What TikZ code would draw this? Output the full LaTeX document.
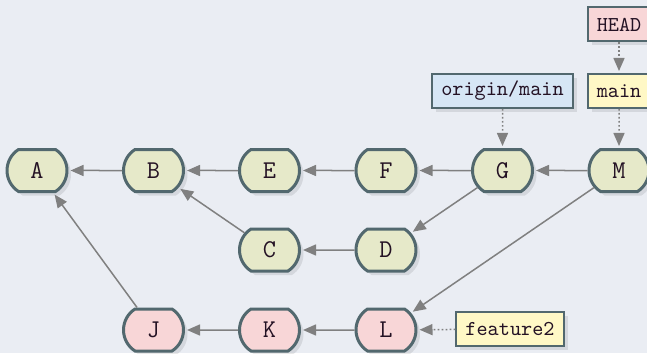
\documentclass[tikz,border=0pt]{standalone}
\usetikzlibrary{shapes.misc,shadows,arrows.meta}

\definecolor{bg}{RGB}{234,237,243}
\definecolor{slate}{RGB}{82,104,110}
\definecolor{cgreen}{RGB}{230,233,201}
\definecolor{cpink}{RGB}{248,214,215}
\definecolor{byellow}{RGB}{255,248,198}
\definecolor{bblue}{RGB}{214,230,245}
\definecolor{arrowgray}{RGB}{128,128,128}
\definecolor{ink}{RGB}{36,18,36}

\tikzset{
  commit/.style={rounded rectangle, rounded rectangle arc length=115,
    draw=slate, line width=1.5pt, fill=cgreen,
    minimum width=30pt, minimum height=21pt, inner sep=0pt,
    font=\ttfamily\fontsize{12.8}{14}\selectfont, text=ink,
    drop shadow={shadow xshift=2pt, shadow yshift=-2pt, fill=black, opacity=0.09}},
  feat/.style={commit, fill=cpink},
  refbox/.style={rectangle, draw=slate, line width=1pt,
    minimum height=17pt, inner xsep=4.6pt, inner ysep=0pt,
    font=\ttfamily\fontsize{10.6}{12}\selectfont, text=ink,
    drop shadow={shadow xshift=2pt, shadow yshift=-2pt, fill=black, opacity=0.09}},
  parent/.style={draw=arrowgray, line width=0.75pt,
    -{Triangle[length=6.5pt,width=5.5pt]}, shorten >=1pt},
  pointer/.style={parent, dash pattern=on 0.8pt off 1.2pt}
}

\begin{document}
\begin{tikzpicture}[x=0.5pt,y=-0.5pt]
  \clip (0,0) rectangle (647,353);
  \fill[bg] (0,0) rectangle (647,353);

  % main line of history
  \node[commit] (A) at (37,170.5) {A};
  \node[commit] (B) at (153.5,170.5) {B};
  \node[commit] (E) at (269.5,170.5) {E};
  \node[commit] (F) at (386,170.5) {F};
  \node[commit] (G) at (502.5,170.5) {G};
  \node[commit] (M) at (619,170.5) {M};

  % side branch merged into G
  \node[commit] (C) at (269.5,250) {C};
  \node[commit] (D) at (386,250) {D};

  % feature2 branch
  \node[feat] (J) at (153.5,330) {J};
  \node[feat] (K) at (269.5,330) {K};
  \node[feat] (L) at (386,330) {L};

  % references
  \node[refbox, fill=cpink] (head) at (619,24.5) {HEAD};
  \node[refbox, fill=byellow] (main) at (619,91) {main};
  \node[refbox, fill=bblue] (origin) at (502.5,91) {origin/main};
  \node[refbox, fill=byellow] (feature) at (510,329) {feature2};

  % parent links
  \draw[parent] (B) -- (A);
  \draw[parent] (E) -- (B);
  \draw[parent] (F) -- (E);
  \draw[parent] (G) -- (F);
  \draw[parent] (M) -- (G);
  \draw[parent] (C) -- (B);
  \draw[parent] (D) -- (C);
  \draw[parent] (G) -- (D);
  \draw[parent] (J) -- (A);
  \draw[parent] (K) -- (J);
  \draw[parent] (L) -- (K);
  \draw[parent] (M) -- (L);

  % reference pointers
  \draw[pointer] (head) -- (main);
  \draw[pointer] (main) -- (M);
  \draw[pointer] (origin) -- (G);
  \draw[pointer] (feature) -- (L);
\end{tikzpicture}
\end{document}
